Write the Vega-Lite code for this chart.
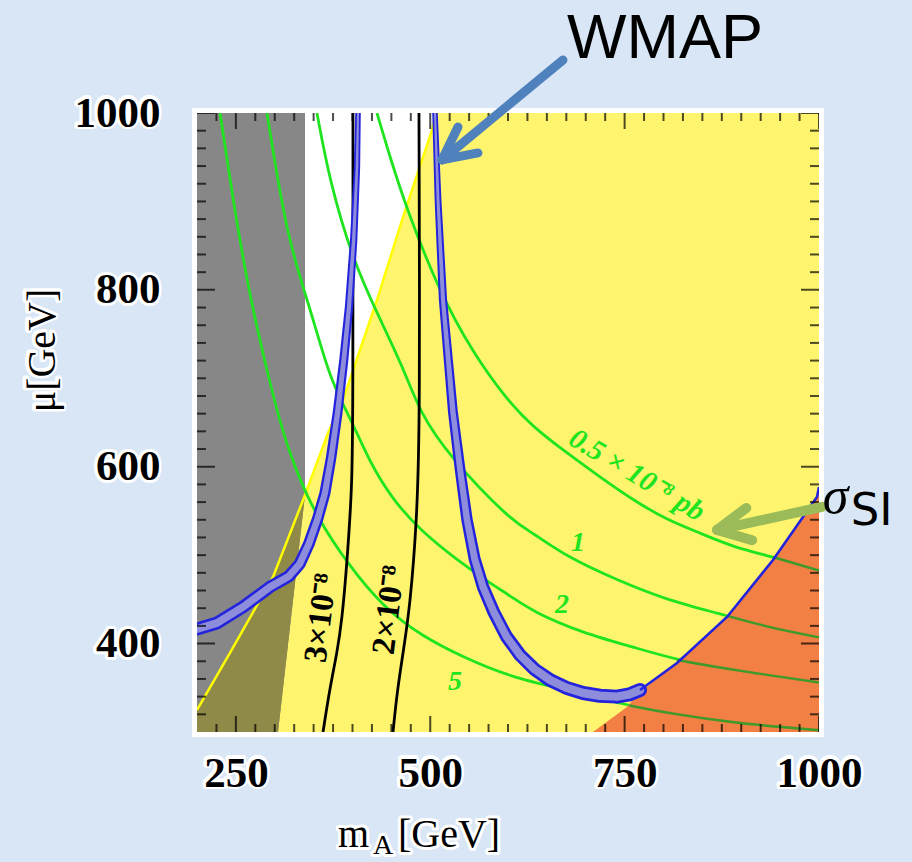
{
  "$schema": "https://vega.github.io/schema/vega-lite/v6.json",
  "width": 622,
  "height": 619,
  "autosize": {"type": "none"},
  "padding": {"left": 197, "top": 113, "right": 93, "bottom": 130},
  "background": "#d8e6f6",
  "config": {"view": {"fill": "white", "stroke": "white", "strokeWidth": 10}},
  "resolve": {"scale": {"size": "independent"}},
  "datasets": {
    "yellow": [
      {"x": 200, "y": 300}, {"x": 200, "y": 324.9}, {"x": 242.4, "y": 389.4}, {"x": 297.8, "y": 475.3},
      {"x": 338.9, "y": 568}, {"x": 368.5, "y": 638.1}, {"x": 387.8, "y": 675.5}, {"x": 431.5, "y": 788.5},
      {"x": 465, "y": 882.4}, {"x": 490.7, "y": 950.2}, {"x": 502.3, "y": 980.8}, {"x": 507.4, "y": 1000}
    ],
    "gray": [
      {"x": 200, "xb": 304.2, "y": 300}, {"x": 200, "xb": 338.9, "y": 568}, {"x": 200, "xb": 338.9, "y": 1000}
    ],
    "olive": [
      {"x": 200, "xb": 304.2, "y": 300}, {"x": 200, "xb": 307.4, "y": 324.9}, {"x": 242.4, "xb": 315.8, "y": 389.4},
      {"x": 297.8, "xb": 326.9, "y": 475.3}, {"x": 338.9, "xb": 338.9, "y": 568}
    ],
    "red": [
      {"x": 709.3, "y": 300}, {"x": 753, "y": 328.3}, {"x": 769.8, "y": 345}, {"x": 817.4, "y": 378.1},
      {"x": 881.7, "y": 430.1}, {"x": 940.8, "y": 494.5}, {"x": 997.4, "y": 565.8}, {"x": 1000, "y": 577}
    ],
    "xmajor": [{"v": 250}, {"v": 500}, {"v": 750}, {"v": 1000}],
    "xminor": [{"v": 225}, {"v": 275}, {"v": 300}, {"v": 325}, {"v": 350}, {"v": 375}, {"v": 400}, {"v": 425}, {"v": 450}, {"v": 475},
      {"v": 525}, {"v": 550}, {"v": 575}, {"v": 600}, {"v": 625}, {"v": 650}, {"v": 675}, {"v": 700}, {"v": 725},
      {"v": 775}, {"v": 800}, {"v": 825}, {"v": 850}, {"v": 875}, {"v": 900}, {"v": 925}, {"v": 950}, {"v": 975}],
    "ymajor": [{"v": 400}, {"v": 600}, {"v": 800}, {"v": 1000}],
    "yminor": [{"v": 320}, {"v": 340}, {"v": 360}, {"v": 380}, {"v": 420}, {"v": 440}, {"v": 460}, {"v": 480}, {"v": 500},
      {"v": 520}, {"v": 540}, {"v": 560}, {"v": 580}, {"v": 620}, {"v": 640}, {"v": 660}, {"v": 680}, {"v": 700},
      {"v": 720}, {"v": 740}, {"v": 760}, {"v": 780}, {"v": 820}, {"v": 840}, {"v": 860}, {"v": 880}, {"v": 900},
      {"v": 920}, {"v": 940}, {"v": 960}, {"v": 980}],
    "curves": [
      {"id": "g5", "i": 0, "x": 229.6, "y": 1000}, {"id": "g5", "i": 1, "x": 246.3, "y": 901.6}, {"id": "g5", "i": 2, "x": 268.2, "y": 788.5},
      {"id": "g5", "i": 3, "x": 304.2, "y": 656.2}, {"id": "g5", "i": 4, "x": 319.6, "y": 615.5}, {"id": "g5", "i": 5, "x": 332.5, "y": 585},
      {"id": "g5", "i": 6, "x": 354.3, "y": 543.2}, {"id": "g5", "i": 7, "x": 392.9, "y": 491.1}, {"id": "g5", "i": 8, "x": 439.2, "y": 441.4},
      {"id": "g5", "i": 9, "x": 490.7, "y": 407.5}, {"id": "g5", "i": 10, "x": 542.1, "y": 384.8}, {"id": "g5", "i": 11, "x": 602.6, "y": 362.2},
      {"id": "g5", "i": 12, "x": 675.9, "y": 347.5}, {"id": "g5", "i": 13, "x": 740.2, "y": 332.8}, {"id": "g5", "i": 14, "x": 804.5, "y": 321.5},
      {"id": "g5", "i": 15, "x": 889.4, "y": 310.2}, {"id": "g5", "i": 16, "x": 1000, "y": 302},
      {"id": "g2", "i": 0, "x": 290, "y": 1000}, {"id": "g2", "i": 1, "x": 316.2, "y": 856.4}, {"id": "g2", "i": 2, "x": 345.3, "y": 780.6},
      {"id": "g2", "i": 3, "x": 371.1, "y": 698}, {"id": "g2", "i": 4, "x": 396.8, "y": 656.2}, {"id": "g2", "i": 5, "x": 422.5, "y": 604.2},
      {"id": "g2", "i": 6, "x": 452.1, "y": 562.4}, {"id": "g2", "i": 7, "x": 486.8, "y": 528.4}, {"id": "g2", "i": 8, "x": 534.4, "y": 494.5},
      {"id": "g2", "i": 9, "x": 576.9, "y": 468.5}, {"id": "g2", "i": 10, "x": 602.6, "y": 454}, {"id": "g2", "i": 11, "x": 632.2, "y": 436},
      {"id": "g2", "i": 12, "x": 696.5, "y": 411.9}, {"id": "g2", "i": 13, "x": 760.8, "y": 396.1}, {"id": "g2", "i": 14, "x": 817.4, "y": 381.4},
      {"id": "g2", "i": 15, "x": 889.4, "y": 370.1}, {"id": "g2", "i": 16, "x": 1000, "y": 356},
      {"id": "g1", "i": 0, "x": 354.3, "y": 1000}, {"id": "g1", "i": 1, "x": 371.1, "y": 920.8}, {"id": "g1", "i": 2, "x": 400.6, "y": 833.8},
      {"id": "g1", "i": 3, "x": 431.5, "y": 773.8}, {"id": "g1", "i": 4, "x": 465, "y": 712.8}, {"id": "g1", "i": 5, "x": 486.8, "y": 660.8},
      {"id": "g1", "i": 6, "x": 525.4, "y": 611}, {"id": "g1", "i": 7, "x": 602.6, "y": 539.8}, {"id": "g1", "i": 8, "x": 632.2, "y": 525.1},
      {"id": "g1", "i": 9, "x": 675.9, "y": 497.9}, {"id": "g1", "i": 10, "x": 740.2, "y": 471.9}, {"id": "g1", "i": 11, "x": 804.5, "y": 449.3},
      {"id": "g1", "i": 12, "x": 868.8, "y": 434.6}, {"id": "g1", "i": 13, "x": 933.1, "y": 418.8}, {"id": "g1", "i": 14, "x": 1000, "y": 407},
      {"id": "g05", "i": 0, "x": 431.5, "y": 1000}, {"id": "g05", "i": 1, "x": 448.2, "y": 950.2}, {"id": "g05", "i": 2, "x": 470.1, "y": 890.3},
      {"id": "g05", "i": 3, "x": 512.5, "y": 796.5}, {"id": "g05", "i": 4, "x": 555, "y": 728.6}, {"id": "g05", "i": 5, "x": 598.7, "y": 675.5},
      {"id": "g05", "i": 6, "x": 632.2, "y": 644.9}, {"id": "g05", "i": 7, "x": 675.9, "y": 615.5}, {"id": "g05", "i": 8, "x": 718.3, "y": 588.4},
      {"id": "g05", "i": 9, "x": 760.8, "y": 562.4}, {"id": "g05", "i": 10, "x": 804.5, "y": 539.8}, {"id": "g05", "i": 11, "x": 846.9, "y": 525.1},
      {"id": "g05", "i": 12, "x": 889.4, "y": 509.2}, {"id": "g05", "i": 13, "x": 940.8, "y": 497.9}, {"id": "g05", "i": 14, "x": 1000, "y": 482.5},
      {"id": "g5r", "i": 0, "x": 756, "y": 330}, {"id": "g5r", "i": 1, "x": 804.5, "y": 321.5}, {"id": "g5r", "i": 2, "x": 889.4, "y": 310.2}, {"id": "g5r", "i": 3, "x": 1000, "y": 302},
      {"id": "g2r", "i": 0, "x": 817.4, "y": 381.4}, {"id": "g2r", "i": 1, "x": 889.4, "y": 370.1}, {"id": "g2r", "i": 2, "x": 1000, "y": 356},
      {"id": "g1r", "i": 0, "x": 881.7, "y": 431.4}, {"id": "g1r", "i": 1, "x": 933.1, "y": 418.8}, {"id": "g1r", "i": 2, "x": 1000, "y": 407},
      {"id": "g05r", "i": 0, "x": 940.8, "y": 497.9}, {"id": "g05r", "i": 1, "x": 1000, "y": 482.5},
      {"id": "k3", "i": 0, "x": 400.6, "y": 1000}, {"id": "k3", "i": 1, "x": 400.6, "y": 652.8}, {"id": "k3", "i": 2, "x": 399.4, "y": 577.1},
      {"id": "k3", "i": 3, "x": 392.9, "y": 491.1}, {"id": "k3", "i": 4, "x": 386.5, "y": 426.7}, {"id": "k3", "i": 5, "x": 380.1, "y": 389.4},
      {"id": "k3", "i": 6, "x": 371.1, "y": 350.9}, {"id": "k3", "i": 7, "x": 362.1, "y": 300},
      {"id": "k2", "i": 0, "x": 485.5, "y": 1000}, {"id": "k2", "i": 1, "x": 486.8, "y": 652.8}, {"id": "k2", "i": 2, "x": 482.9, "y": 539.8},
      {"id": "k2", "i": 3, "x": 473.9, "y": 441.4}, {"id": "k2", "i": 4, "x": 465, "y": 389.4}, {"id": "k2", "i": 5, "x": 457.2, "y": 344.1},
      {"id": "k2", "i": 6, "x": 452.1, "y": 300},
      {"id": "wl", "i": 0, "x": 407.1, "y": 1000}, {"id": "wl", "i": 1, "x": 405.8, "y": 938.9}, {"id": "wl", "i": 2, "x": 401.5, "y": 856.4},
      {"id": "wl", "i": 3, "x": 395.5, "y": 780.6}, {"id": "wl", "i": 4, "x": 388.8, "y": 720.7}, {"id": "wl", "i": 5, "x": 380.8, "y": 660.8},
      {"id": "wl", "i": 6, "x": 372.5, "y": 610}, {"id": "wl", "i": 7, "x": 364.5, "y": 570}, {"id": "wl", "i": 8, "x": 355.5, "y": 542},
      {"id": "wl", "i": 9, "x": 344, "y": 513}, {"id": "wl", "i": 10, "x": 332, "y": 490}, {"id": "wl", "i": 11, "x": 318, "y": 476},
      {"id": "wl", "i": 12, "x": 293.9, "y": 464}, {"id": "wl", "i": 13, "x": 259.2, "y": 441.4}, {"id": "wl", "i": 14, "x": 225.7, "y": 423.3},
      {"id": "wl", "i": 15, "x": 200, "y": 416.5},
      {"id": "wr", "i": 0, "x": 506.1, "y": 1000}, {"id": "wr", "i": 1, "x": 510, "y": 901.6}, {"id": "wr", "i": 2, "x": 516.4, "y": 788.5},
      {"id": "wr", "i": 3, "x": 529.3, "y": 660.8}, {"id": "wr", "i": 4, "x": 538.5, "y": 596}, {"id": "wr", "i": 5, "x": 547.3, "y": 539.8},
      {"id": "wr", "i": 6, "x": 557, "y": 496}, {"id": "wr", "i": 7, "x": 567.9, "y": 464},
      {"id": "wr", "i": 8, "x": 582, "y": 435}, {"id": "wr", "i": 9, "x": 598, "y": 408}, {"id": "wr", "i": 10, "x": 615.5, "y": 387},
      {"id": "wr", "i": 11, "x": 634, "y": 371}, {"id": "wr", "i": 12, "x": 654, "y": 358.8}, {"id": "wr", "i": 13, "x": 675, "y": 350},
      {"id": "wr", "i": 14, "x": 696.5, "y": 344.1}, {"id": "wr", "i": 15, "x": 718, "y": 341}, {"id": "wr", "i": 16, "x": 740.2, "y": 340},
      {"id": "wr", "i": 17, "x": 756, "y": 342.5}, {"id": "wr", "i": 18, "x": 769.8, "y": 347.5},
      {"id": "wt", "i": 0, "x": 769.8, "y": 347.5}, {"id": "wt", "i": 1, "x": 817.4, "y": 378.1}, {"id": "wt", "i": 2, "x": 881.7, "y": 430.1},
      {"id": "wt", "i": 3, "x": 940.8, "y": 494.5}, {"id": "wt", "i": 4, "x": 997.4, "y": 565.8}, {"id": "wt", "i": 5, "x": 1000, "y": 577}
    ],
    "arrows": [
      {"id": "wmap", "i": 0, "x": 670.7, "y": 1059.9}, {"id": "wmap", "i": 1, "x": 515.1, "y": 946.9},
      {"id": "sigma", "i": 0, "x": 1003.9, "y": 554.6}, {"id": "sigma", "i": 1, "x": 868.8, "y": 528.5}
    ],
    "xtitle": [{"t": "m", "x": 381.4, "y": 170, "s": "big"}, {"t": "[GeV]", "x": 458.5, "y": 170, "s": "big"}, {"t": "A", "x": 426.4, "y": 162, "s": "small"}]
  },
  "layer": [
    {
      "data": {"name": "yellow"},
      "mark": {"type": "area", "color": "#fff46e", "clip": true},
      "encoding": {
        "y": {"field": "y", "type": "quantitative", "scale": {"domain": [300, 1000], "nice": false, "zero": false},
          "axis": {"orient": "left", "values": [400, 600, 800, 1000], "format": "d",
            "labelFont": "Liberation Serif", "labelFontWeight": "bold", "labelFontSize": 43, "labelColor": "black",
            "labelPadding": 37, "labelOverlap": false, "labelBound": false, "labelFlush": false,
            "ticks": false, "domain": false, "grid": false, "zindex": 1,
            "title": "μ[GeV]", "titleFont": "Liberation Serif", "titleFontWeight": "normal", "titleFontSize": 40, "titleColor": "black",
            "titleX": -155, "titleY": 237, "titleAngle": -90, "titleAlign": "center", "titleBaseline": "middle"}},
        "x": {"field": "x", "type": "quantitative", "scale": {"domain": [200, 1000], "nice": false, "zero": false},
          "axis": {"orient": "bottom", "values": [250, 500, 750, 1000], "format": "d",
            "labelFont": "Liberation Serif", "labelFontWeight": "bold", "labelFontSize": 43, "labelColor": "black",
            "labelPadding": 20, "labelOverlap": false, "labelBound": false, "labelFlush": false, "labelBaseline": "top",
            "ticks": false, "domain": false, "grid": false, "zindex": 1, "title": null}},
        "x2": {"datum": 1000}
      }
    },
    {
      "data": {"name": "gray"},
      "mark": {"type": "area", "color": "#878787", "clip": true},
      "encoding": {
        "y": {"field": "y", "type": "quantitative"},
        "x": {"field": "x", "type": "quantitative"},
        "x2": {"field": "xb"}
      }
    },
    {
      "data": {"name": "olive"},
      "mark": {"type": "area", "color": "#8f8a48", "clip": true},
      "encoding": {
        "y": {"field": "y", "type": "quantitative"},
        "x": {"field": "x", "type": "quantitative"},
        "x2": {"field": "xb"}
      }
    },
    {
      "data": {"name": "yellow"},
      "transform": [{"filter": "datum.y > 320"}],
      "mark": {"type": "line", "color": "#ffff00", "strokeWidth": 2.5, "clip": true},
      "encoding": {
        "x": {"field": "x", "type": "quantitative"},
        "y": {"field": "y", "type": "quantitative"},
        "order": {"field": "y", "type": "quantitative"}
      }
    },
    {
      "data": {"name": "curves"},
      "transform": [{"filter": "indexof(['g5','g2','g1','g05'], datum.id) >= 0"}],
      "mark": {"type": "line", "color": "#1fe41f", "strokeWidth": 2.8, "clip": true, "interpolate": "basis"},
      "encoding": {
        "x": {"field": "x", "type": "quantitative"},
        "y": {"field": "y", "type": "quantitative"},
        "detail": {"field": "id", "type": "nominal"},
        "order": {"field": "i", "type": "quantitative"}
      }
    },
    {
      "data": {"name": "red"},
      "mark": {"type": "area", "color": "#f0703f", "opacity": 0.88, "clip": true},
      "encoding": {
        "x": {"field": "x", "type": "quantitative"},
        "y": {"field": "y", "type": "quantitative"},
        "y2": {"datum": 300}
      }
    },
    {
      "data": {"name": "curves"},
      "transform": [{"filter": "indexof(['g5r','g2r','g1r','g05r'], datum.id) >= 0"}],
      "mark": {"type": "line", "color": "#3f9a2c", "strokeWidth": 2.4, "clip": true, "interpolate": "basis"},
      "encoding": {
        "x": {"field": "x", "type": "quantitative"},
        "y": {"field": "y", "type": "quantitative"},
        "detail": {"field": "id", "type": "nominal"},
        "order": {"field": "i", "type": "quantitative"}
      }
    },
    {
      "data": {"name": "curves"},
      "transform": [{"filter": "datum.id === 'k3' || datum.id === 'k2'"}],
      "mark": {"type": "line", "color": "black", "strokeWidth": 2.8, "clip": true, "interpolate": "basis"},
      "encoding": {
        "x": {"field": "x", "type": "quantitative"},
        "y": {"field": "y", "type": "quantitative"},
        "detail": {"field": "id", "type": "nominal"},
        "order": {"field": "i", "type": "quantitative"}
      }
    },
    {
      "data": {"name": "curves"},
      "transform": [{"filter": "datum.id === 'wl' || datum.id === 'wr'"}],
      "mark": {"type": "trail", "color": "#2424dc", "clip": true},
      "encoding": {
        "x": {"field": "x", "type": "quantitative"},
        "y": {"field": "y", "type": "quantitative"},
        "detail": {"field": "id", "type": "nominal"},
        "order": {"field": "i", "type": "quantitative"},
        "size": {"field": "y", "type": "quantitative", "scale": {"domain": [340, 1000], "range": [14, 5.5], "zero": false}, "legend": null}
      }
    },
    {
      "data": {"name": "curves"},
      "transform": [{"filter": "datum.id === 'wl' || datum.id === 'wr'"}],
      "mark": {"type": "trail", "color": "#8d8ddc", "clip": true},
      "encoding": {
        "x": {"field": "x", "type": "quantitative"},
        "y": {"field": "y", "type": "quantitative"},
        "detail": {"field": "id", "type": "nominal"},
        "order": {"field": "i", "type": "quantitative"},
        "size": {"field": "y", "type": "quantitative", "scale": {"domain": [340, 1000], "range": [8.5, 2], "zero": false}, "legend": null}
      }
    },
    {
      "data": {"name": "curves"},
      "transform": [{"filter": "datum.id === 'wt'"}],
      "mark": {"type": "line", "color": "#2424dc", "strokeWidth": 2.6, "clip": true},
      "encoding": {
        "x": {"field": "x", "type": "quantitative"},
        "y": {"field": "y", "type": "quantitative"},
        "order": {"field": "i", "type": "quantitative"}
      }
    },
    {
      "data": {"name": "xminor"},
      "mark": {"type": "tick", "orient": "vertical", "color": "black", "size": 16, "thickness": 2, "clip": true},
      "encoding": {"x": {"field": "v", "type": "quantitative"}, "y": {"datum": 300}}
    },
    {
      "data": {"name": "xminor"},
      "mark": {"type": "tick", "orient": "vertical", "color": "black", "size": 16, "thickness": 2, "clip": true},
      "encoding": {"x": {"field": "v", "type": "quantitative"}, "y": {"datum": 1000}}
    },
    {
      "data": {"name": "xmajor"},
      "mark": {"type": "tick", "orient": "vertical", "color": "black", "size": 32, "thickness": 2, "clip": true},
      "encoding": {"x": {"field": "v", "type": "quantitative"}, "y": {"datum": 300}}
    },
    {
      "data": {"name": "xmajor"},
      "mark": {"type": "tick", "orient": "vertical", "color": "black", "size": 32, "thickness": 2, "clip": true},
      "encoding": {"x": {"field": "v", "type": "quantitative"}, "y": {"datum": 1000}}
    },
    {
      "data": {"name": "yminor"},
      "mark": {"type": "tick", "orient": "horizontal", "color": "black", "size": 18, "thickness": 2, "clip": true},
      "encoding": {"y": {"field": "v", "type": "quantitative"}, "x": {"datum": 200}}
    },
    {
      "data": {"name": "yminor"},
      "mark": {"type": "tick", "orient": "horizontal", "color": "black", "size": 18, "thickness": 2, "clip": true},
      "encoding": {"y": {"field": "v", "type": "quantitative"}, "x": {"datum": 1000}}
    },
    {
      "data": {"name": "ymajor"},
      "mark": {"type": "tick", "orient": "horizontal", "color": "black", "size": 36, "thickness": 2, "clip": true},
      "encoding": {"y": {"field": "v", "type": "quantitative"}, "x": {"datum": 200}}
    },
    {
      "data": {"name": "ymajor"},
      "mark": {"type": "tick", "orient": "horizontal", "color": "black", "size": 36, "thickness": 2, "clip": true},
      "encoding": {"y": {"field": "v", "type": "quantitative"}, "x": {"datum": 1000}}
    },
    {
      "mark": {"type": "rule", "color": "black", "strokeWidth": 2.5},
      "encoding": {"y": {"datum": 300}}
    },
    {
      "mark": {"type": "rule", "color": "black", "strokeWidth": 2.5},
      "encoding": {"y": {"datum": 1000}}
    },
    {
      "mark": {"type": "rule", "color": "black", "strokeWidth": 2.5},
      "encoding": {"x": {"datum": 200}}
    },
    {
      "mark": {"type": "rule", "color": "black", "strokeWidth": 2.5},
      "encoding": {"x": {"datum": 1000}}
    },
    {
      "data": {"values": [{"t": "5", "x": 531.8, "y": 356.6}, {"t": "2", "x": 669.5, "y": 443.6}, {"t": "1", "x": 690, "y": 513.8}]},
      "mark": {"type": "text", "color": "#1fe41f", "font": "Liberation Serif", "fontSize": 28, "fontWeight": "bold", "fontStyle": "italic", "align": "center", "baseline": "middle"},
      "encoding": {
        "x": {"field": "x", "type": "quantitative"},
        "y": {"field": "y", "type": "quantitative"},
        "text": {"field": "t", "type": "nominal"}
      }
    },
    {
      "data": {"values": [{"t": "0.5 × 10⁻⁸ pb", "x": 765.9, "y": 590.6}]},
      "mark": {"type": "text", "color": "#1fe41f", "font": "Liberation Serif", "fontSize": 29, "fontWeight": "bold", "fontStyle": "italic", "align": "center", "baseline": "middle", "angle": 31},
      "encoding": {
        "x": {"field": "x", "type": "quantitative"},
        "y": {"field": "y", "type": "quantitative"},
        "text": {"field": "t", "type": "nominal"}
      }
    },
    {
      "data": {"values": [{"t": "3×10⁻⁸", "x": 359.5, "y": 429}, {"t": "2×10⁻⁸", "x": 447, "y": 438}]},
      "mark": {"type": "text", "color": "black", "font": "Liberation Serif", "fontSize": 33, "fontWeight": "bold", "align": "center", "baseline": "middle", "angle": -83},
      "encoding": {
        "x": {"field": "x", "type": "quantitative"},
        "y": {"field": "y", "type": "quantitative"},
        "text": {"field": "t", "type": "nominal"}
      }
    },
    {
      "data": {"name": "arrows"},
      "transform": [{"filter": "datum.id === 'wmap'"}],
      "mark": {"type": "line", "color": "#4f81bd", "strokeWidth": 9, "clip": false, "strokeCap": "round"},
      "encoding": {
        "x": {"field": "x", "type": "quantitative"},
        "y": {"field": "y", "type": "quantitative"},
        "order": {"field": "i", "type": "quantitative"}
      }
    },
    {
      "data": {"name": "arrows"},
      "transform": [{"filter": "datum.id === 'wmap' && datum.i === 1"}],
      "mark": {"type": "point", "shape": "M -0.5 1 L 0 0 L 0.5 1", "filled": false, "stroke": "#4f81bd", "strokeWidth": 9, "strokeCap": "round", "strokeJoin": "round", "size": 4300, "angle": 232.4, "opacity": 1, "clip": false},
      "encoding": {
        "x": {"field": "x", "type": "quantitative"},
        "y": {"field": "y", "type": "quantitative"}
      }
    },
    {
      "data": {"name": "arrows"},
      "transform": [{"filter": "datum.id === 'sigma'"}],
      "mark": {"type": "line", "color": "#9bbb59", "strokeWidth": 10, "clip": false, "strokeCap": "round"},
      "encoding": {
        "x": {"field": "x", "type": "quantitative"},
        "y": {"field": "y", "type": "quantitative"},
        "order": {"field": "i", "type": "quantitative"}
      }
    },
    {
      "data": {"name": "arrows"},
      "transform": [{"filter": "datum.id === 'sigma' && datum.i === 1"}],
      "mark": {"type": "point", "shape": "M -0.5 1 L 0 0 L 0.5 1", "filled": false, "stroke": "#9bbb59", "strokeWidth": 10, "strokeCap": "round", "strokeJoin": "round", "size": 4300, "angle": 259.7, "opacity": 1, "clip": false},
      "encoding": {
        "x": {"field": "x", "type": "quantitative"},
        "y": {"field": "y", "type": "quantitative"}
      }
    },
    {
      "data": {"values": [{"t": "WMAP", "x": 801.9, "y": 1062.2}]},
      "mark": {"type": "text", "color": "black", "font": "Liberation Sans", "fontSize": 63, "align": "center", "baseline": "alphabetic", "clip": false},
      "encoding": {
        "x": {"field": "x", "type": "quantitative"},
        "y": {"field": "y", "type": "quantitative"},
        "text": {"field": "t", "type": "nominal"}
      }
    },
    {
      "data": {"values": [{"t": "σ", "x": 1004.9, "y": 547.7}]},
      "mark": {"type": "text", "color": "black", "font": "Liberation Serif", "fontSize": 52, "fontStyle": "italic", "align": "left", "baseline": "alphabetic", "clip": false},
      "encoding": {
        "x": {"field": "x", "type": "quantitative"},
        "y": {"field": "y", "type": "quantitative"},
        "text": {"field": "t", "type": "nominal"}
      }
    },
    {
      "data": {"values": [{"t": "SI", "x": 1040.9, "y": 534.1}]},
      "mark": {"type": "text", "color": "black", "font": "DejaVu Sans", "fontSize": 45, "align": "left", "baseline": "alphabetic", "clip": false},
      "encoding": {
        "x": {"field": "x", "type": "quantitative"},
        "y": {"field": "y", "type": "quantitative"},
        "text": {"field": "t", "type": "nominal"}
      }
    },
    {
      "data": {"name": "xmajor"},
      "mark": {"type": "text", "color": "white", "stroke": "white", "strokeWidth": 6, "strokeJoin": "round", "font": "Liberation Serif", "fontWeight": "bold", "fontSize": 43, "align": "center", "baseline": "top", "clip": false},
      "encoding": {
        "x": {"field": "v", "type": "quantitative"},
        "y": {"datum": 277.4},
        "text": {"field": "v", "type": "quantitative", "format": "d"}
      }
    },
    {
      "data": {"name": "ymajor"},
      "mark": {"type": "text", "color": "white", "stroke": "white", "strokeWidth": 6, "strokeJoin": "round", "font": "Liberation Serif", "fontWeight": "bold", "fontSize": 43, "align": "right", "baseline": "middle", "clip": false},
      "encoding": {
        "y": {"field": "v", "type": "quantitative"},
        "x": {"datum": 152.4},
        "text": {"field": "v", "type": "quantitative", "format": "d"}
      }
    },
    {
      "data": {"values": [{"t": "μ[GeV]", "x": 0.64, "y": 732}]},
      "mark": {"type": "text", "color": "white", "stroke": "white", "strokeWidth": 6, "strokeJoin": "round", "font": "Liberation Serif", "fontSize": 40, "align": "center", "baseline": "middle", "angle": -90, "clip": false},
      "encoding": {
        "x": {"field": "x", "type": "quantitative"},
        "y": {"field": "y", "type": "quantitative"},
        "text": {"field": "t", "type": "nominal"}
      }
    },
    {
      "data": {"name": "xtitle"},
      "transform": [{"filter": "datum.s === 'big'"}],
      "mark": {"type": "text", "color": "white", "stroke": "white", "strokeWidth": 6, "strokeJoin": "round", "font": "Liberation Serif", "fontSize": 40, "align": "left", "baseline": "alphabetic", "clip": false},
      "encoding": {
        "x": {"field": "x", "type": "quantitative"},
        "y": {"field": "y", "type": "quantitative"},
        "text": {"field": "t", "type": "nominal"}
      }
    },
    {
      "data": {"name": "xtitle"},
      "transform": [{"filter": "datum.s === 'small'"}],
      "mark": {"type": "text", "color": "white", "stroke": "white", "strokeWidth": 6, "strokeJoin": "round", "font": "Liberation Serif", "fontSize": 28, "align": "left", "baseline": "alphabetic", "clip": false},
      "encoding": {
        "x": {"field": "x", "type": "quantitative"},
        "y": {"field": "y", "type": "quantitative"},
        "text": {"field": "t", "type": "nominal"}
      }
    },
    {
      "data": {"name": "xtitle"},
      "transform": [{"filter": "datum.s === 'big'"}],
      "mark": {"type": "text", "color": "black", "font": "Liberation Serif", "fontSize": 40, "align": "left", "baseline": "alphabetic", "clip": false},
      "encoding": {
        "x": {"field": "x", "type": "quantitative"},
        "y": {"field": "y", "type": "quantitative"},
        "text": {"field": "t", "type": "nominal"}
      }
    },
    {
      "data": {"name": "xtitle"},
      "transform": [{"filter": "datum.s === 'small'"}],
      "mark": {"type": "text", "color": "black", "font": "Liberation Serif", "fontSize": 28, "align": "left", "baseline": "alphabetic", "clip": false},
      "encoding": {
        "x": {"field": "x", "type": "quantitative"},
        "y": {"field": "y", "type": "quantitative"},
        "text": {"field": "t", "type": "nominal"}
      }
    }
  ]
}
